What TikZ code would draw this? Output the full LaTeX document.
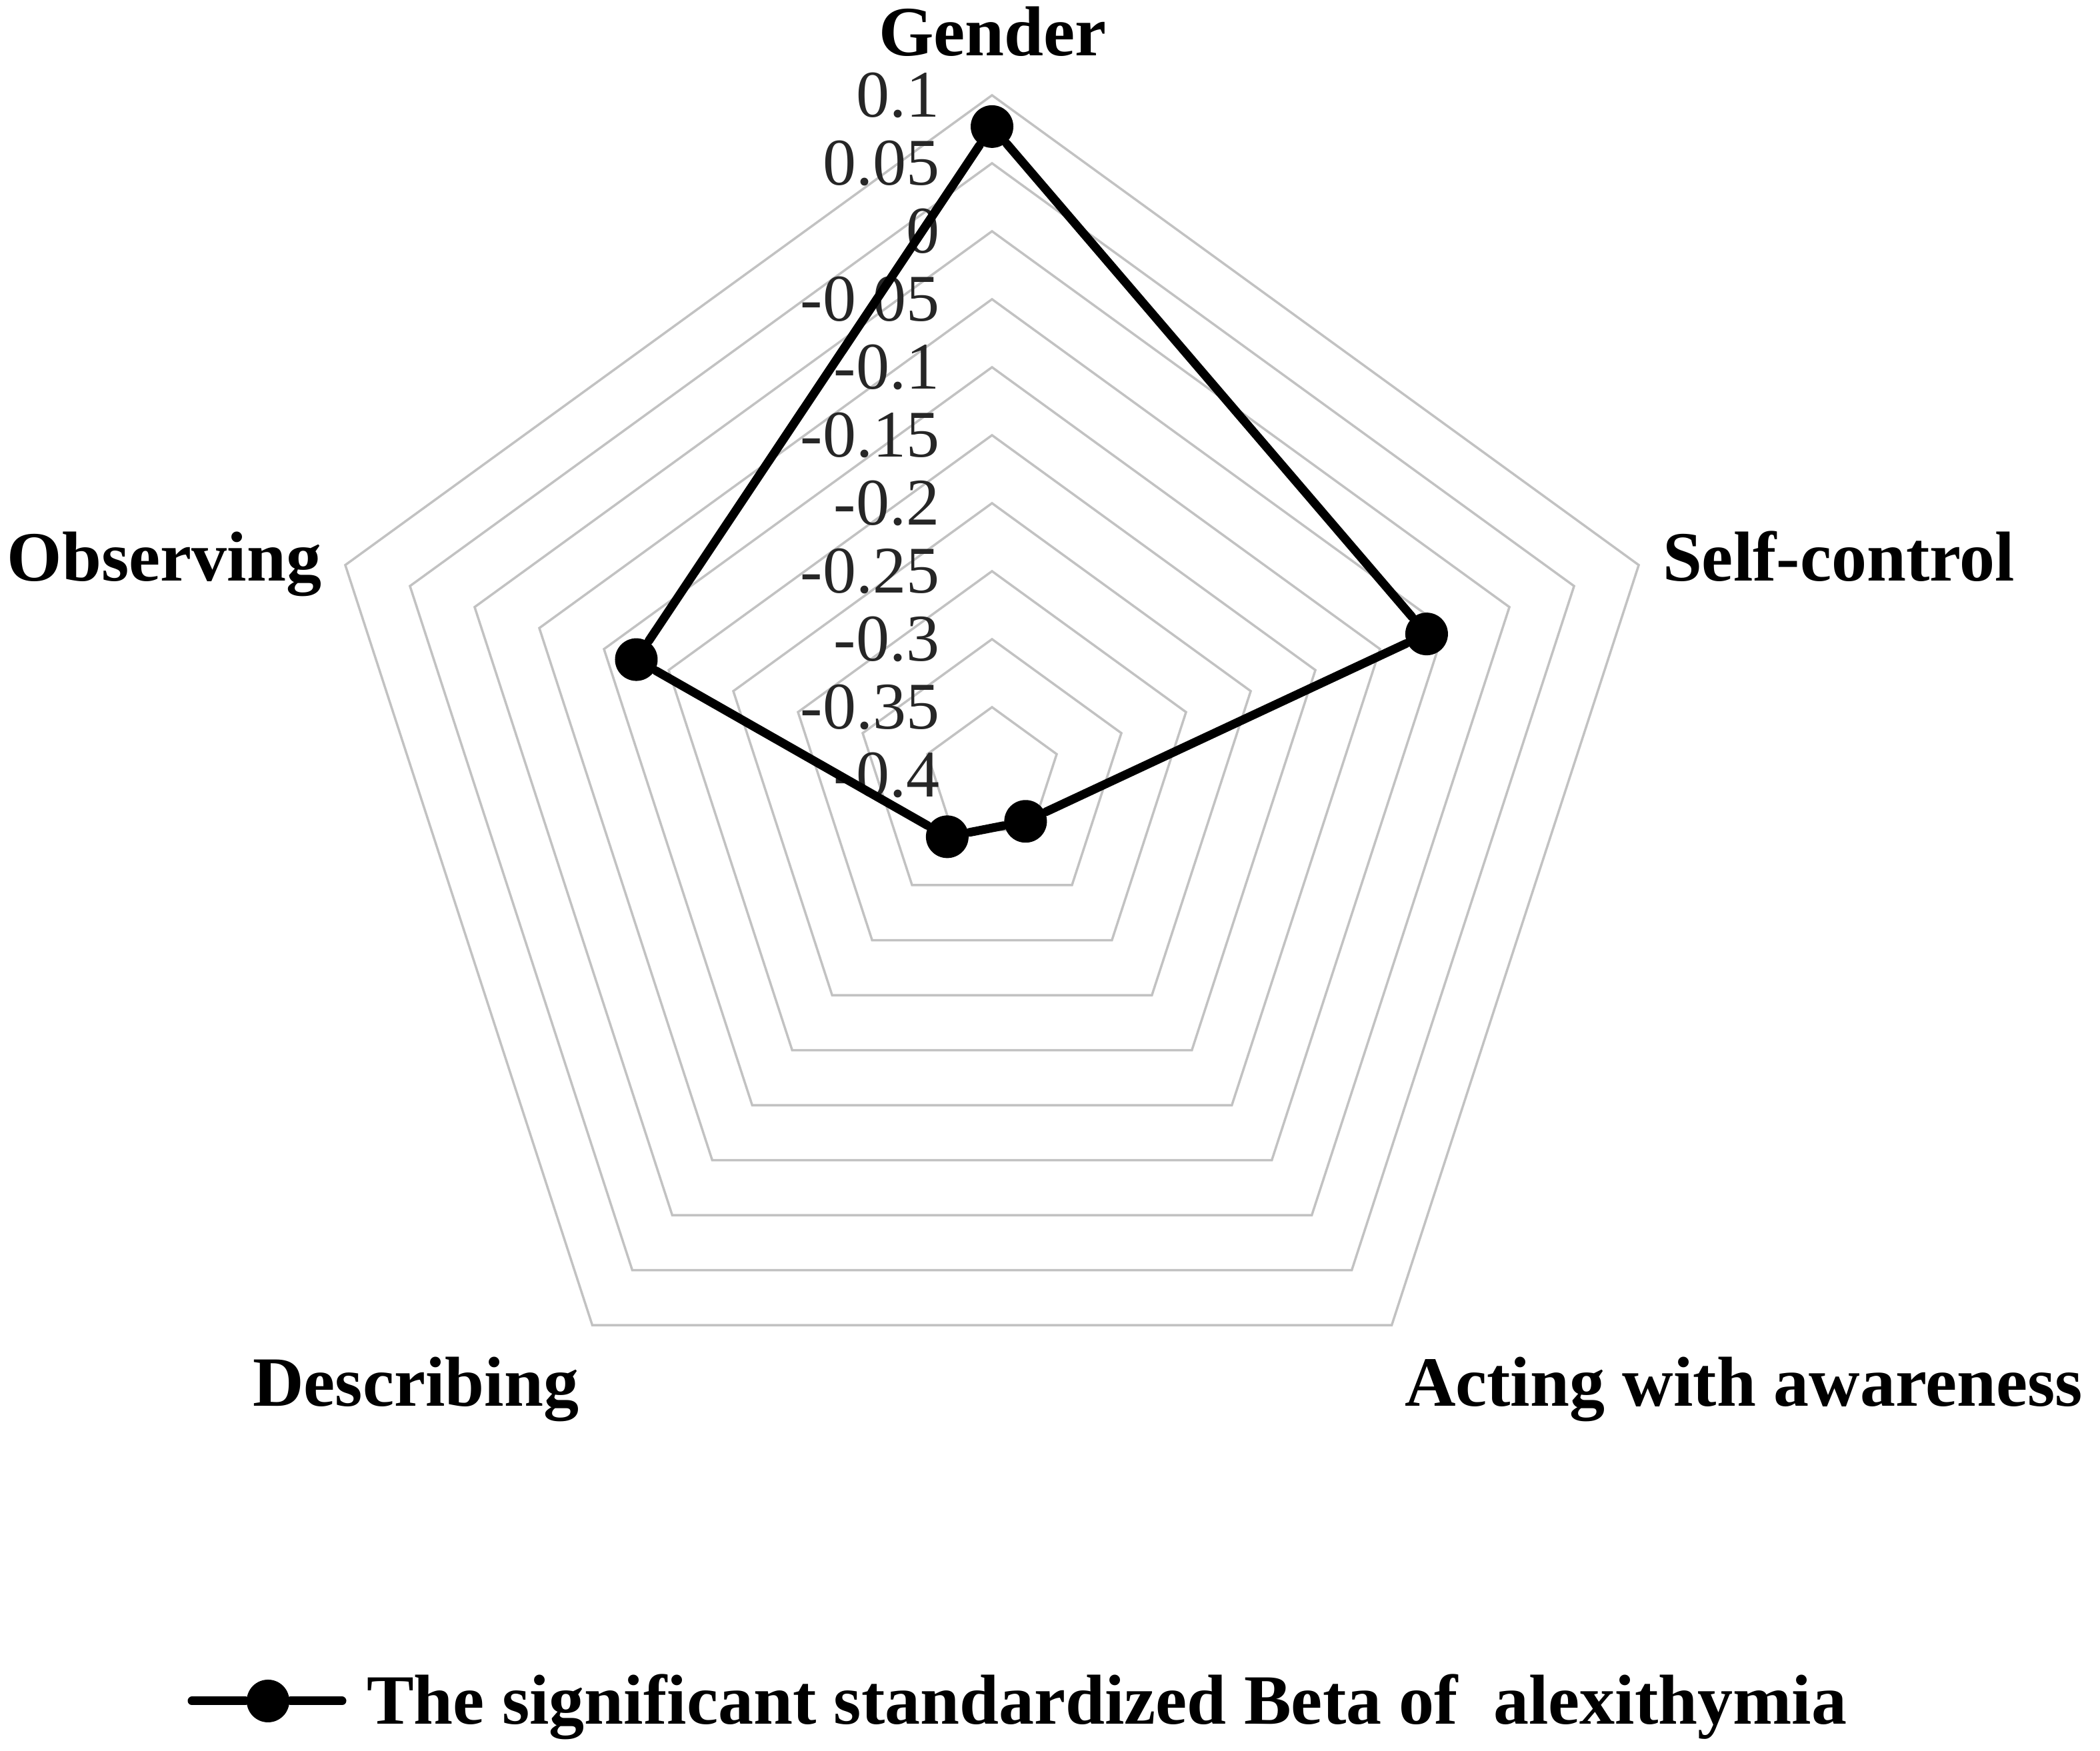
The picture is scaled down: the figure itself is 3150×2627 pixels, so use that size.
\documentclass[tikz,border=0pt]{standalone}
\usepackage{fontspec}
\setmainfont{Liberation Serif}
\usetikzlibrary{positioning}
\tikzset{
    grid-ring/.style = {draw=black!24, line width=0.35pt},
    data-line/.style = {draw=black, line width=1.3pt, line cap=round, line join=round},
    data-dot/.style = {circle, fill=black, inner sep=0pt, minimum size=6.4pt},
    axis-label/.style = {inner sep=0pt, font=\fontsize{10.6pt}{12pt}\selectfont\bfseries},
    tick-label/.style = {inner sep=0pt, anchor=east, text=black!85, font=\fontsize{10pt}{12pt}\selectfont},
}
\newcommand{\betaradius}[1]{((#1)+0.4)*2040}

\begin{document}
\begin{tikzpicture}[x=0.1pt, y=0.1pt]
\useasboundingbox (0,0) rectangle (3150,2627);
\begin{scope}[shift={(1488,1464)}]
% rings of the radar
\foreach \k in {1,...,10}
    \draw[grid-ring] (90:{\k*102}) -- (18:{\k*102}) -- (-54:{\k*102}) -- (-126:{\k*102}) -- (162:{\k*102}) -- cycle;
\foreach \k/\t in {10/0.1, 9/0.05, 8/0, 7/-0.05, 6/-0.1, 5/-0.15, 4/-0.2, 3/-0.25, 2/-0.3, 1/-0.35, 0/-0.4}
    \node[tick-label] at (-77,{\k*102}) {\t};
% the values
\node[data-dot] (gender) at (90:{\betaradius{0.077}}) {};
\node[data-dot] (selfcontrol) at (18:{\betaradius{-0.064}}) {};
\node[data-dot] (acting) at (-54:{\betaradius{-0.358}}) {};
\node[data-dot] (describing) at (-126:{\betaradius{-0.344}}) {};
\node[data-dot] (observing) at (162:{\betaradius{-0.125}}) {};
\draw[data-line] (gender) -- (selfcontrol) -- (acting) -- (describing) -- (observing) -- (gender);
\end{scope}
\node[axis-label, anchor=base] (gender-label) at (1489,2543) {Gender};
\node[axis-label, anchor=base west] (selfcontrol-label) at (2492,1755) {Self-control};
\node[axis-label, anchor=base west] (acting-label) at (2105,517) {Acting with awareness};
\node[axis-label, anchor=base east] (describing-label) at (870,517) {Describing};
\node[axis-label, anchor=base east] (observing-label) at (484,1755) {Observing};
% legend
\coordinate (leg-a) at (288,75);
\coordinate (leg-b) at (513,75);
\node[data-dot] (leg-dot) at (402,75) {};
\draw[data-line] (leg-a) -- (leg-dot) -- (leg-b);
\node[axis-label, anchor=base west] (legend) at (548,40) {The significant standardized Beta of\ \ alexithymia};
\end{tikzpicture}
\end{document}
